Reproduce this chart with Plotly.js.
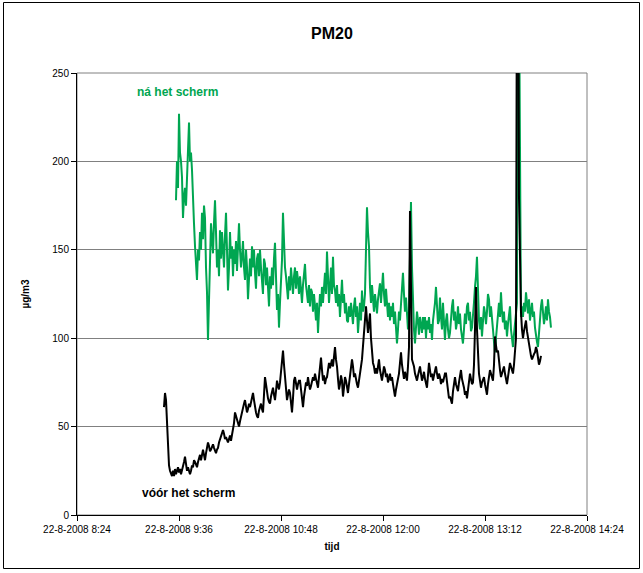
<!DOCTYPE html>
<html>
<head>
<meta charset="utf-8">
<script src="https://cdn.plot.ly/plotly-3.0.1.min.js"></script>
<style>html,body{margin:0;padding:0;background:#fff;}#chart{width:643px;height:573px;}</style>
</head>
<body>
<div id="chart"></div>
<script>
var day = "2008-08-22";
var sampleSeconds = 42.35;

// vóór het scherm (black), first sample 09:25:25
var voorStart = "09:25:25";
var voorValues = [
61,69,65,52,35,28,25,23,22,25,
22,26,23,25,27,24,26,23,25,27,
30,33,28,25,27,24,23,25,28,27,
31,30,28,27,30,32,34,31,35,37,
34,31,35,38,41,39,36,37,39,40,
38,36,35,37,38,41,43,44,46,48,
46,43,44,42,41,43,45,42,45,48,
52,58,56,54,52,50,53,56,58,61,
63,65,61,58,60,63,61,64,67,69,
65,61,58,56,55,59,62,63,60,58,
68,78,74,69,66,64,63,67,70,72,
68,65,70,76,73,71,75,80,87,93,
85,78,72,65,68,71,69,64,58,66,
76,78,74,71,74,76,76,70,65,61,
67,72,75,73,78,74,71,73,75,78,
76,80,77,74,72,78,84,89,82,76,
79,74,77,78,82,86,83,85,88,84,
90,95,88,84,77,71,74,79,76,67,
72,78,76,72,69,74,80,84,88,84,
78,80,76,74,72,77,80,84,88,95,
100,108,118,110,103,108,114,100,89,86,
84,80,83,80,84,88,82,79,76,80,
84,82,78,80,75,77,80,76,78,74,
70,67,71,74,76,80,86,92,85,80,
77,81,78,76,84,95,172,110,88,86,
84,80,78,76,79,82,84,80,76,78,
81,77,74,72,79,86,82,78,80,76,
79,82,84,80,77,80,78,74,77,75,
78,80,80,74,69,66,67,64,63,70,
74,78,74,72,70,75,79,82,77,75,
72,68,70,66,72,76,80,77,74,75,
85,105,129,105,88,80,76,72,75,77,
78,74,71,68,74,78,82,80,78,76,
85,101,96,92,93,86,82,78,80,83,
84,80,77,74,78,82,86,84,82,80,
85,92,100,330,400,180,131,115,105,100,
104,108,110,104,100,97,93,90,88,90,
91,92,95,93,88,85,87,90];

// ná het scherm (green), first sample 09:33:53
var naStart = "09:33:53";
var naValues = [
178,200,185,227,205,200,191,168,180,185,
175,195,205,222,200,205,195,172,165,152,
140,133,150,144,160,150,171,156,175,168,
140,126,99,120,144,165,156,148,165,178,
160,140,150,135,161,145,160,152,140,158,
171,150,127,140,160,145,152,135,150,142,
155,138,150,165,150,140,146,155,140,133,
150,140,122,135,145,135,152,140,150,137,
128,145,148,135,150,140,133,125,145,142,
130,140,129,118,135,128,140,130,145,154,
135,116,125,106,120,135,144,171,150,140,
135,129,122,135,127,140,133,125,135,140,
128,138,133,125,135,128,120,130,138,142,
130,125,120,130,118,128,126,115,125,118,
110,120,103,115,125,118,129,120,130,137,
125,149,135,120,129,140,125,146,130,127,
120,130,118,125,112,125,133,120,125,114,
120,110,109,118,112,120,114,108,118,123,
112,118,103,112,120,110,127,115,118,125,
146,174,160,152,129,120,130,123,115,125,
118,114,122,128,131,120,128,137,125,118,
128,122,112,120,110,118,112,120,108,115,
105,97,105,115,110,120,128,137,125,115,
123,112,105,115,150,177,140,114,105,97,
108,115,110,102,112,106,103,112,105,112,
100,110,105,112,103,108,99,110,115,120,
129,118,108,110,123,112,105,120,108,99,
110,114,105,100,103,112,118,122,110,115,
105,109,118,108,114,105,100,97,105,114,
108,118,120,110,115,104,106,112,120,129,
135,146,125,110,105,112,101,108,118,114,
108,115,125,122,112,118,108,105,98,92,
100,108,114,120,112,126,115,109,115,105,
110,101,108,112,118,105,100,95,102,110,
114,120,400,400,150,112,118,112,120,115,
126,118,114,122,110,115,120,112,115,106,
100,98,95,105,112,118,122,115,108,112,
118,110,122,115,112,106];

var xTickVals = ["08:24","09:36","10:48","12:00","13:12","14:24"];
var xTickText = ["22-8-2008 8:24","22-8-2008 9:36","22-8-2008 10:48","22-8-2008 12:00","22-8-2008 13:12","22-8-2008 14:24"];
var yTickVals = [0,50,100,150,200,250];

function pad(n){ return (n < 10 ? "0" : "") + n; }
function stamp(t){ return day + " " + t; }
function series(start, n){
  var p = start.split(":").map(Number);
  var s0 = p[0]*3600 + p[1]*60 + (p[2] || 0);
  var out = [];
  for (var i = 0; i < n; i++){
    var s = Math.round(s0 + i*sampleSeconds);
    out.push(day + " " + pad(Math.floor(s/3600)) + ":" + pad(Math.floor(s%3600/60)) + ":" + pad(s%60));
  }
  return out;
}

var traces = [
  {x: series(naStart, naValues.length), y: naValues, type: 'scatter', mode: 'lines', name: 'ná het scherm',
   line: {color: 'rgb(0,166,81)', width: 2}},
  {x: series(voorStart, voorValues.length), y: voorValues, type: 'scatter', mode: 'lines', name: 'vóór het scherm',
   line: {color: '#000000', width: 2}}
];

var W = 643, H = 573, L = 77, R = 587, T = 73, B = 515;
function px(v){ return (v - L) / (R - L); }
function py(v){ return (B - v) / (B - T); }

var layout = {
  width: W, height: H,
  margin: {l: L, r: W - R, t: T, b: H - B, pad: 0},
  paper_bgcolor: '#ffffff', plot_bgcolor: '#ffffff',
  showlegend: false,
  font: {family: 'Liberation Sans, Arial, sans-serif', size: 10, color: '#000'},
  title: {text: '<b>PM20</b>', font: {size: 16, family: 'Liberation Sans, Arial, sans-serif'},
          x: 0.5, xref: 'paper', y: 1 - 33 / H, yref: 'container', yanchor: 'middle'},
  xaxis: {
    type: 'date',
    range: [stamp(xTickVals[0]), stamp(xTickVals[xTickVals.length - 1])],
    tickmode: 'array', tickvals: xTickVals.map(stamp), ticktext: xTickText,
    ticks: 'outside', ticklen: 5, tickcolor: '#000', tickwidth: 1,
    showline: true, linecolor: '#000', linewidth: 1,
    showgrid: false, zeroline: false,
    tickfont: {size: 10},
    title: {text: '<b>tijd</b>', font: {size: 10}, standoff: 8}
  },
  yaxis: {
    range: [0, 250],
    tickmode: 'array', tickvals: yTickVals,
    ticks: 'outside', ticklen: 5, tickcolor: '#000', tickwidth: 1,
    showline: true, linecolor: '#000', linewidth: 1,
    showgrid: true, gridcolor: '#808080', gridwidth: 1,
    zeroline: false,
    tickfont: {size: 10},
    title: {text: '<b>µg/m3</b>', font: {size: 10}, standoff: 20}
  },
  shapes: [
    {type: 'rect', xref: 'paper', yref: 'paper', x0: 0, x1: 1, y0: 0, y1: 1,
     line: {color: '#808080', width: 1}, fillcolor: 'rgba(0,0,0,0)', layer: 'below'},
    {type: 'rect', xref: 'paper', yref: 'paper', x0: px(3.5), x1: px(639.5), y0: py(568.5), y1: py(2.5),
     line: {color: '#000', width: 1}, fillcolor: 'rgba(0,0,0,0)', layer: 'below'}
  ],
  annotations: [
    {text: '<b>ná het scherm</b>', xref: 'paper', yref: 'paper', x: px(135), y: py(92),
     xanchor: 'left', yanchor: 'middle', showarrow: false,
     font: {size: 12, color: 'rgb(0,166,81)'}},
    {text: '<b>vóór het scherm</b>', xref: 'paper', yref: 'paper', x: px(140), y: py(493),
     xanchor: 'left', yanchor: 'middle', showarrow: false,
     font: {size: 12, color: '#000'}}
  ]
};

Plotly.newPlot('chart', traces, layout, {displayModeBar: false, staticPlot: true});
</script>
</body>
</html>
